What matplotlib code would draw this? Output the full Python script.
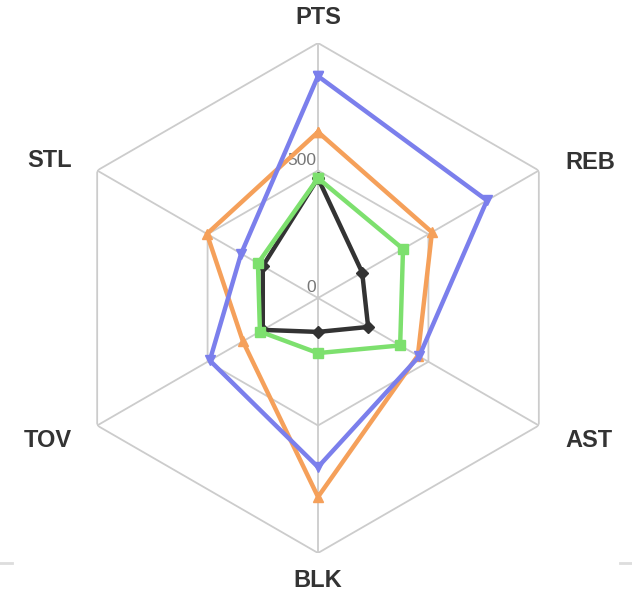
import numpy as np
import matplotlib
matplotlib.use("Agg")
import matplotlib.pyplot as plt
from matplotlib.lines import Line2D

categories = ["PTS", "REB", "AST", "BLK", "TOV", "STL"]
r_ticks = [0, 500]
r_max = 1000

blue_vals = [870, 765, 458, 663, 490, 348]
orange_vals = [651, 516, 452, 780, 340, 503]
green_vals = [470, 385, 372, 216, 263, 272]
black_vals = [470, 200, 227, 133, 250, 250]

# drawn bottom to top
series = [
    (orange_vals, "#f5a05a", "^"),
    (blue_vals, "#7b7fec", "v"),
    (black_vals, "#333333", "D"),
    (green_vals, "#7de06e", "s"),
]

fig = plt.figure(figsize=(6.32, 5.98), dpi=100)
ax = fig.add_axes([63 / 632, 45 / 598, 510 / 632, 510 / 598], projection="polar")
ax.set_theta_offset(np.pi / 2)
ax.set_theta_direction(-1)
ax.set_ylim(0, r_max)
ax.grid(False)
ax.spines["polar"].set_visible(False)
ax.set_xticks([])
ax.set_yticks([])
ax.patch.set_alpha(0)

n = len(categories)
angles = np.arange(n) * 2 * np.pi / n
closed = np.append(angles, angles[0])

# hexagonal grid
for r in [500, 1000]:
    ax.plot(closed, [r] * (n + 1), color="#cccccc", lw=1.3, zorder=1)
for a in angles:
    ax.plot([a, a], [0, r_max], color="#cccccc", lw=1.3, zorder=1)

for vals, color, marker in series:
    v = vals + vals[:1]
    ms = 6 if marker == "D" else 7
    ax.plot(closed, v, color=color, lw=3.2, marker=marker, ms=ms,
            markeredgecolor=color, zorder=3, clip_on=False)

for t in r_ticks:
    ax.annotate(str(t), (0, t), xytext=(-1.5, 7.5), textcoords="offset points",
                ha="right", va="center", fontsize=12.5, color="#777777",
                family="Liberation Sans", zorder=2)

offsets = {
    "PTS": (0, 18, "center"),
    "REB": (19, 6, "left"),
    "AST": (19, -11, "left"),
    "BLK": (0, -20, "center"),
    "TOV": (-18, -11, "right"),
    "STL": (-18, 7, "right"),
}
for a, cat in zip(angles, categories):
    dx, dy, ha = offsets[cat]
    ax.annotate(cat, (a, r_max), xytext=(dx, dy), textcoords="offset points",
                ha=ha, va="center", fontsize=17, fontweight="bold",
                color="#333333", family="Liberation Sans", annotation_clip=False)

fig.add_artist(Line2D([0, 12 / 632], [1 - 563 / 598] * 2, color="#dddddd", lw=2,
                      transform=fig.transFigure))
fig.add_artist(Line2D([620 / 632, 1], [1 - 563 / 598] * 2, color="#dddddd", lw=2,
                      transform=fig.transFigure))

fig.savefig("out.png", dpi=100)
